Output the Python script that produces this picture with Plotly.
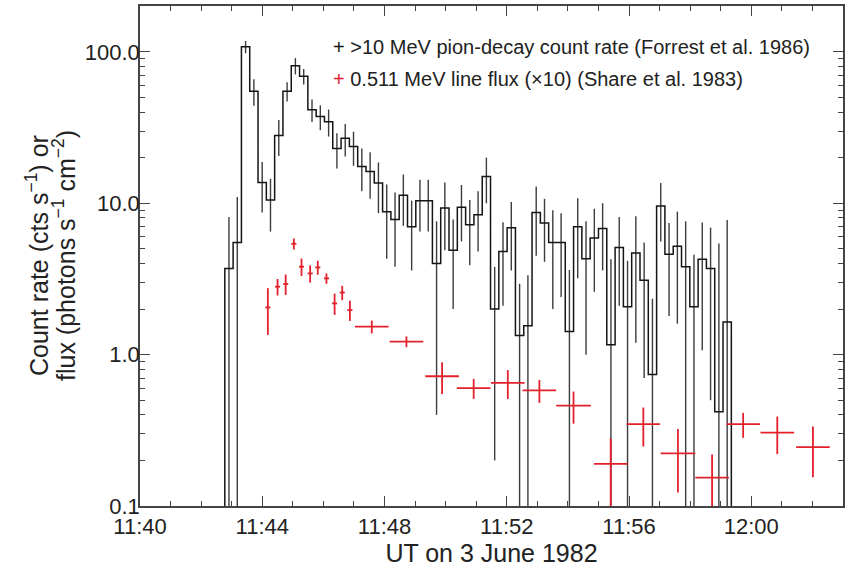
import plotly.graph_objects as go

# ---------------- data ----------------
PION_BIN_START = "11:42:46.5"     # left edge of first 16-s bin
PION_BIN_WIDTH_S = 16.3
PION_RATE = [3.7, 5.5, 108, 55, 13.7, 10.5, 28, 55, 81, 69,
             41.4, 37.4, 34.6, 23, 26.9, 23.7, 17.5, 16.2, 13.6, 8.8,
             7.8, 11.3, 7.0, 10.4, 10.4, 4.0, 9.3, 4.9, 9.4, 7.2,
             8.4, 15, 2.0, 4.8, 6.9, 1.34, 1.55, 8.7, 7.4, 5.5,
             5.5, 1.42, 7.0, 4.3, 5.9, 6.8, 1.16, 5.1, 2.07, 4.7,
             3.1, 0.74, 9.6, 4.6, 5.2, 3.8, 2.07, 4.27, 3.7, 0.42, 1.64]
PION_ERR = [4.4, 5.5, 10, 11, 5, 4, 7.5, 8, 10, 8,
            7, 7, 7, 6, 6.5, 6, 5.5, 5.5, 5, 4.5,
            4, 4.2, 3.4, 3.9, 3.9, 3.6, 4.4, 2.9, 3.8, 3.3,
            3.6, 5, 1.8, 2.7, 3.3, 1.6, 1.8, 4.2, 3.3, 3.5,
            3.1, 2.2, 3.8, 3.3, 3.3, 3.2, 3.1, 3.0, 2.1, 3.5,
            2.4, 1.6, 4.0, 2.8, 3.6, 3.8, 2.5, 3.2, 3.2, 5.0, 6.1]
BASELINE = 1e-3  # histogram outline starts/ends at zero

LINE_TIME = ["11:44:11", "11:44:30", "11:44:46", "11:45:02", "11:45:17", "11:45:34",
             "11:45:49", "11:46:06", "11:46:22", "11:46:37", "11:46:52", "11:47:35",
             "11:48:43", "11:49:53", "11:50:55", "11:52:02", "11:53:04", "11:54:11",
             "11:55:24", "11:56:28", "11:57:36", "11:58:43", "11:59:44", "12:00:51",
             "12:02:01"]
LINE_FLUX = [2.05, 2.81, 2.93, 5.4, 3.81, 3.44, 3.77, 3.19, 2.18, 2.57, 1.97, 1.53,
             1.22, 0.72, 0.60, 0.65, 0.58, 0.46, 0.19, 0.347, 0.223, 0.154, 0.347,
             0.305, 0.245]
LINE_FLUX_ERR = [0.7, 0.35, 0.45, 0.45, 0.5, 0.45, 0.4, 0.25, 0.35, 0.28, 0.3, 0.15,
                 0.1, 0.17, 0.09, 0.14, 0.1, 0.11, 0.09, 0.1, 0.1, 0.065, 0.065,
                 0.085, 0.09]
LINE_HALF_S = [5, 5, 5, 5, 5, 5, 5, 5, 5, 5, 5, 33,
               33, 33, 33, 33, 33, 34, 33, 33, 34, 33, 33,
               33, 33]

X_TICKS = ["11:40", "11:44", "11:48", "11:52", "11:56", "12:00"]
X_RANGE = ["11:40:00", "12:03:00"]
Y_TICKS = [0.1, 1, 10, 100]
LEGEND_PION = "&gt;10 MeV pion-decay count rate (Forrest et al. 1986)"
LEGEND_LINE = "0.511 MeV line flux (×10) (Share et al. 1983)"
X_TITLE = "UT on 3 June 1982"
Y_TITLE_1 = "Count rate (cts s<sup>−1</sup>) or"
Y_TITLE_2 = "flux (photons s<sup>−1</sup> cm<sup>−2</sup>)"

# ---------------- derived ----------------
REF = "11:40:00"

def minutes(s):
    """minutes after 11:40 UT"""
    parts = [float(p) for p in s.split(":")]
    if len(parts) == 2:
        parts.append(0.0)
    h, m, sec = parts
    r = [float(p) for p in REF.split(":")]
    return (h - r[0]) * 60 + (m - r[1]) + (sec - r[2]) / 60

t0 = minutes(PION_BIN_START)
w = PION_BIN_WIDTH_S / 60
n = len(PION_RATE)
edges = [t0 + i * w for i in range(n + 1)]
centers = [t0 + (i + 0.5) * w for i in range(n)]

hist_x = [edges[0]] + edges
hist_y = [BASELINE] + PION_RATE + [BASELINE]

BLACK = "#151515"
RED = "#e3202b"
AX = "#444"
TXT = "#222"
FONT = "Liberation Sans, Arial, Helvetica, sans-serif"

fig = go.Figure()
fig.add_trace(go.Scatter(
    x=centers, y=PION_RATE, mode="markers",
    marker=dict(size=1, color="rgba(0,0,0,0)"),
    error_y=dict(type="data", array=PION_ERR, visible=True,
                 color="#3c3c3c", thickness=1.4, width=0),
    showlegend=False, hoverinfo="skip"))
fig.add_trace(go.Scatter(
    x=hist_x, y=hist_y, mode="lines",
    line=dict(color=BLACK, width=1.5, shape="hv"),
    showlegend=False))
fig.add_trace(go.Scatter(
    x=[minutes(s) for s in LINE_TIME], y=LINE_FLUX, mode="markers",
    marker=dict(size=1, color=RED),
    error_y=dict(type="data", array=LINE_FLUX_ERR, visible=True,
                 color=RED, thickness=1.8, width=0),
    error_x=dict(type="data", array=[h / 60 for h in LINE_HALF_S], visible=True,
                 color=RED, thickness=1.8, width=0),
    showlegend=False))

axis_common = dict(
    showline=True, linecolor=AX, linewidth=1.5, mirror="allticks",
    ticks="inside", ticklen=10, tickwidth=1.2, tickcolor=AX,
    showgrid=False, zeroline=False, automargin=False,
    tickfont=dict(family=FONT, size=22, color=TXT),
)

fig.update_xaxes(
    range=[minutes(X_RANGE[0]), minutes(X_RANGE[1])],
    tickvals=[minutes(s) for s in X_TICKS], ticktext=X_TICKS,
    minor=dict(ticks="inside", ticklen=5, tickwidth=1.2, tickcolor=AX,
               dtick=1, tick0=0, showgrid=False),
    title=dict(text=X_TITLE, font=dict(family=FONT, size=25, color=TXT), standoff=4),
    **axis_common)
fig.update_yaxes(
    type="log", range=[-1, 2.3032], tickvals=Y_TICKS, tickformat=".1f",
    minor=dict(ticks="inside", ticklen=5, tickwidth=1.2, tickcolor=AX,
               dtick="D1", showgrid=False),
    ticklabelstandoff=-6,
    **axis_common)

# two-line y title, placed line by line
for txt, xpx in [(Y_TITLE_1, 37), (Y_TITLE_2, 64)]:
    fig.add_annotation(xref="paper", yref="paper", x=(xpx - 140) / 703, y=0.5,
                       xanchor="center", yanchor="middle", showarrow=False,
                       textangle=-90, text=txt,
                       font=dict(family=FONT, size=25, color=TXT))

fig.add_annotation(xref="paper", yref="paper", x=(331 - 140) / 703, y=(506 - 47) / 500,
                   xanchor="left", yanchor="middle", showarrow=False,
                   text=f'<span style="color:{BLACK}">+</span> {LEGEND_PION}',
                   font=dict(family=FONT, size=20, color=TXT))
fig.add_annotation(xref="paper", yref="paper", x=(331 - 140) / 703, y=(506 - 79) / 500,
                   xanchor="left", yanchor="middle", showarrow=False,
                   text=f'<span style="color:{RED}">+</span> {LEGEND_LINE}',
                   font=dict(family=FONT, size=20, color=TXT))

fig.update_layout(
    width=853, height=567,
    margin=dict(l=140, r=10, t=6, b=61),
    paper_bgcolor="white", plot_bgcolor="white",
    showlegend=False,
)
fig.write_html("out.html")
